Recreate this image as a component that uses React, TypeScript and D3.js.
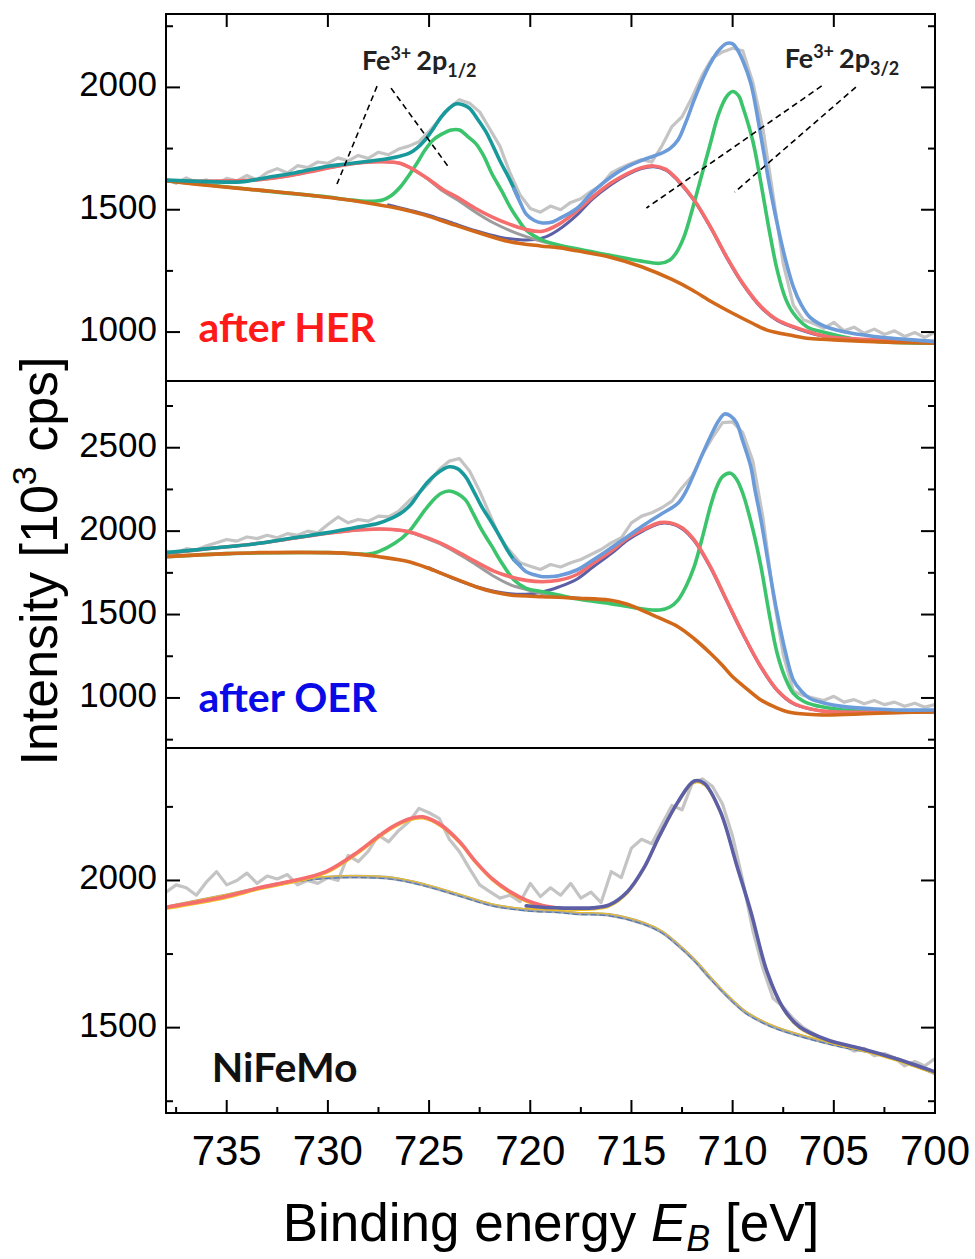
import React from "react";
import * as d3 from "d3";

// ---------- axes ----------
const E_DOMAIN: [number, number] = [738, 700];
const X_MAJOR = [735, 730, 725, 720, 715, 710, 705, 700];
const X_MINOR = [737.5, 732.5, 727.5, 722.5, 717.5, 712.5, 707.5, 702.5];

const HER_Y_DOMAIN: [number, number] = [800, 2300];
const HER_Y_MAJOR = [1000, 1500, 2000];
const HER_Y_MINOR = [1250, 1750, 2250];
const OER_Y_DOMAIN: [number, number] = [700, 2900];
const OER_Y_MAJOR = [1000, 1500, 2000, 2500];
const OER_Y_MINOR = [750, 1250, 1750, 2250, 2750];
const NFM_Y_DOMAIN: [number, number] = [1210, 2450];
const NFM_Y_MAJOR = [1500, 2000];
const NFM_Y_MINOR = [1250, 1750, 2250];

// ---------- raw spectra (sampled every 0.5 eV) ----------
const RAW_E = [738, 737.5, 737, 736.5, 736, 735.5, 735, 734.5, 734, 733.5, 733, 732.5, 732, 731.5, 731, 730.5, 730, 729.5, 729, 728.5, 728, 727.5, 727, 726.5, 726, 725.5, 725, 724.5, 724, 723.5, 723, 722.5, 722, 721.5, 721, 720.5, 720, 719.5, 719, 718.5, 718, 717.5, 717, 716.5, 716, 715.5, 715, 714.5, 714, 713.5, 713, 712.5, 712, 711.5, 711, 710.5, 710, 709.5, 709, 708.5, 708, 707.5, 707, 706.5, 706, 705.5, 705, 704.5, 704, 703.5, 703, 702.5, 702, 701.5, 701, 700.5, 700];

const HER_RAW = [1625, 1608, 1630, 1612, 1622, 1605, 1628, 1618, 1640, 1622, 1652, 1668, 1650, 1680, 1672, 1695, 1690, 1712, 1700, 1722, 1710, 1735, 1725, 1748, 1760, 1778, 1820, 1868, 1915, 1950, 1935, 1900, 1830, 1760, 1650, 1560, 1505, 1490, 1515, 1500, 1530, 1545, 1575, 1600, 1650, 1672, 1690, 1705, 1695, 1760, 1840, 1880, 1960, 2050, 2120, 2145, 2160, 2150, 2020, 1830, 1560, 1280, 1110, 1050, 1035, 1015, 1040, 1005, 1020, 995, 1012, 990, 1005, 982, 998, 978, 1000];

const OER_RAW = [1880, 1868, 1895, 1885, 1912, 1930, 1950, 1940, 1965, 1955, 1975, 1960, 1985, 1975, 2000, 1990, 2040, 2085, 2050, 2070, 2060, 2090, 2085, 2120, 2180, 2230, 2290, 2370, 2420, 2435, 2360, 2240, 2100, 1960, 1880, 1810, 1790, 1770, 1800, 1785, 1810, 1830, 1860, 1890, 1930, 1960, 2050, 2090, 2110, 2140, 2180, 2260, 2330, 2460, 2560, 2650, 2655, 2590, 2420, 2080, 1620, 1260, 1040, 1015, 1000, 985, 1010, 975, 990, 965, 985, 960, 975, 950, 968, 945, 960];

const NFM_RAW = [1960, 1985, 1975, 1950, 1995, 2030, 1985, 2000, 2025, 1990, 2015, 2005, 2020, 1985, 2000, 1990, 2010, 2000, 2085, 2064, 2100, 2154, 2131, 2170, 2199, 2245, 2230, 2211, 2140, 2098, 2040, 1985, 1962, 1940, 1950, 1928, 1990, 1945, 1975, 1950, 1990, 1940, 1960, 1925, 2030, 2010, 2110, 2140, 2125, 2190, 2255, 2240, 2330, 2345, 2320, 2260, 2150, 2000, 1830, 1700, 1600, 1570, 1530, 1500, 1480, 1460, 1452, 1440, 1420, 1430, 1405, 1412, 1398, 1370, 1385, 1370, 1395];

// ---------- fitted curves, after HER ----------
const HER_BG: [number, number][] = [[738, 1619], [736, 1600], [733.4, 1580], [731, 1560], [728.4, 1533], [726.5, 1505], [725.2, 1478], [724, 1445], [722.7, 1410], [721, 1369], [719.5, 1352], [718.6, 1345], [717.7, 1332], [716, 1305], [714.5, 1267], [713, 1215], [712, 1172], [711, 1122], [710, 1077], [709, 1035], [708.3, 1008], [707, 985], [706.2, 974], [705, 968], [703.7, 963], [702, 958], [700, 954]];
const HER_GREEN: [number, number][] = [[738, 1619], [733, 1576], [730, 1552], [729, 1541], [728, 1534], [727.3, 1540], [726.9, 1556], [726.4, 1595], [726, 1640], [725.6, 1690], [725.2, 1744], [724.8, 1785], [724.4, 1808], [723.9, 1826], [723.5, 1826], [723.1, 1800], [722.7, 1771], [722.3, 1720], [721.9, 1648], [721.4, 1575], [721, 1512], [720.6, 1460], [720.2, 1417], [719.4, 1376], [718.6, 1356], [717.7, 1340], [716.1, 1315], [714.5, 1290], [713.6, 1281], [713.1, 1295], [712.8, 1322], [712.4, 1390], [712, 1499], [711.5, 1650], [711.1, 1771], [710.7, 1890], [710.3, 1962], [710, 1983], [709.7, 1965], [709.5, 1921], [709, 1780], [708.6, 1608], [708.2, 1420], [707.8, 1254], [707.4, 1140], [707, 1077], [706.3, 1020], [705.6, 1001], [704.5, 980], [703.7, 968], [702, 958], [700, 954]];
const HER_RED: [number, number][] = [[738, 1619], [736, 1616], [734.5, 1618], [733.4, 1623], [732, 1638], [730.9, 1655], [729.2, 1683], [727.5, 1696], [726.4, 1689], [725.2, 1635], [724.3, 1582], [723.5, 1546], [722.7, 1505], [721.9, 1471], [721, 1440], [720.2, 1419], [719.4, 1412], [718.6, 1440], [717.7, 1495], [716.9, 1553], [716, 1610], [715.2, 1648], [714.5, 1672], [713.9, 1679], [713.3, 1665], [712.7, 1621], [711.9, 1540], [711.1, 1431], [710.3, 1308], [709.5, 1199], [708.6, 1104], [707.8, 1050], [707, 1022], [706, 995], [705.3, 981], [704, 972], [702.8, 968], [700, 961]];
const HER_GRAY: [number, number][] = [[738, 1619], [736, 1616], [734.5, 1618], [733.4, 1623], [732, 1638], [730.9, 1655], [729.2, 1683], [727.5, 1696], [726.4, 1689], [725.2, 1633], [724.3, 1575], [723.5, 1535], [722.7, 1490], [721.9, 1450], [721, 1415], [720.2, 1390], [719.4, 1370], [718.6, 1355], [717.5, 1333]];
const HER_PURPLE: [number, number][] = [[727, 1520], [725.2, 1482], [724, 1450], [722.7, 1414], [721.5, 1388], [720.5, 1377], [719.8, 1378], [719.2, 1390], [718.6, 1418], [717.7, 1478], [716.9, 1545], [716, 1603], [715.2, 1643], [714.5, 1668], [713.9, 1676], [713.3, 1662], [712.7, 1618], [711.9, 1537], [711.1, 1428], [710.3, 1305], [709.5, 1196], [708.6, 1101], [707.8, 1047], [707, 1019], [706, 992], [705, 978], [703, 966], [700, 958]];
const HER_TEAL: [number, number][] = [[738, 1621], [736, 1615], [734.3, 1614], [733, 1632], [731.8, 1648], [730, 1678], [729.2, 1686], [727.5, 1703], [726.5, 1718], [726, 1730], [725.6, 1752], [725.2, 1785], [724.8, 1830], [724.4, 1880], [724, 1915], [723.7, 1932], [723.3, 1928], [723, 1914], [722.6, 1870], [722.2, 1820], [721.9, 1771], [721.5, 1700], [721, 1621], [720.6, 1550]];
const HER_BLUE: [number, number][] = [[720.8, 1585], [720.5, 1530], [720.2, 1482], [719.8, 1456], [719.4, 1446], [718.9, 1450], [718.6, 1462], [717.7, 1505], [716.9, 1574], [716, 1635], [715.2, 1676], [714.4, 1705], [713.6, 1728], [713.1, 1750], [712.7, 1785], [712.3, 1860], [711.9, 1949], [711.5, 2030], [711.1, 2098], [710.7, 2150], [710.3, 2180], [710, 2178], [709.8, 2159], [709.5, 2110], [709.1, 2016], [708.6, 1799], [708.2, 1610], [707.8, 1444], [707.4, 1300], [707, 1185], [706.6, 1110], [706.2, 1062], [705.5, 1025], [704.5, 1001], [703, 982], [702, 974], [700, 961]];

// ---------- fitted curves, after OER ----------
const OER_BG: [number, number][] = [[738, 1847], [735, 1865], [733.4, 1871], [730, 1871], [728.5, 1862], [727.5, 1847], [726, 1817], [725.2, 1785], [724.4, 1747], [723.5, 1705], [722.7, 1667], [721.8, 1635], [721, 1617], [719.4, 1607], [718.6, 1604], [717.7, 1598], [716.1, 1587], [715.2, 1562], [714.5, 1527], [713.6, 1478], [712.7, 1427], [711.9, 1355], [711.1, 1268], [710.5, 1195], [710, 1127], [709.3, 1055], [708.6, 988], [707.9, 945], [707.3, 918], [706.3, 902], [705.3, 898], [703.5, 905], [702, 912], [700, 918]];
const OER_GREEN: [number, number][] = [[738, 1847], [735, 1865], [733, 1870], [730, 1871], [728.5, 1863], [728, 1862], [727.5, 1877], [726.7, 1927], [726, 1997], [725.6, 2060], [725.2, 2127], [724.8, 2185], [724.4, 2227], [724, 2241], [723.6, 2225], [723.2, 2187], [722.8, 2100], [722.4, 2007], [721.9, 1910], [721.5, 1827], [720.8, 1707], [720.2, 1657], [719.4, 1637], [718.6, 1617], [717.5, 1590], [716.1, 1567], [714.5, 1535], [713.6, 1527], [713.1, 1545], [712.7, 1587], [712.3, 1670], [711.9, 1787], [711.5, 1960], [711.1, 2147], [710.8, 2260], [710.5, 2327], [710.1, 2347], [709.8, 2310], [709.5, 2227], [709, 2010], [708.6, 1787], [708.2, 1510], [707.8, 1268], [707.4, 1120], [707, 1028], [706.5, 980], [706, 958], [705, 935], [704.5, 928], [703, 915], [700, 918]];
const OER_RED: [number, number][] = [[738, 1867], [735.5, 1900], [733.4, 1927], [731.7, 1957], [730, 1987], [728.7, 2005], [727.5, 2013], [726.8, 2010], [726, 1997], [725.2, 1965], [724.4, 1927], [723.5, 1870], [722.7, 1817], [721.8, 1760], [721, 1727], [720.2, 1705], [719.4, 1697], [718.6, 1705], [717.7, 1740], [716.9, 1807], [716, 1880], [715.2, 1957], [714.4, 2010], [713.6, 2051], [713.1, 2050], [712.5, 2020], [711.9, 1947], [711.1, 1787], [710.3, 1587], [709.5, 1388], [708.6, 1187], [707.8, 1048], [707, 968], [706.2, 935], [705.3, 918], [703, 915], [700, 918]];
const OER_GRAY: [number, number][] = [[738, 1867], [735.5, 1900], [733.4, 1927], [731.7, 1957], [730, 1987], [728.7, 2005], [727.5, 2013], [726.8, 2010], [726, 1995], [725.2, 1960], [724.4, 1920], [723.5, 1860], [722.7, 1800], [721.8, 1730], [721, 1680], [720.2, 1650], [719.4, 1625], [718.6, 1610], [717.5, 1598]];
const OER_PURPLE: [number, number][] = [[725, 1780], [723.5, 1702], [722.7, 1668], [721.8, 1640], [721, 1625], [720.2, 1622], [719.4, 1635], [718.6, 1665], [717.7, 1712], [716.9, 1785], [716, 1865], [715.2, 1945], [714.4, 2003], [713.6, 2045], [713.1, 2045], [712.5, 2015], [711.9, 1942], [711.1, 1782], [710.3, 1582], [709.5, 1384], [708.6, 1183], [707.8, 1045], [707, 965], [706, 930], [705, 915], [700, 916]];
const OER_TEAL: [number, number][] = [[738, 1871], [735.5, 1900], [733.4, 1927], [731.7, 1960], [730, 1991], [728.7, 2020], [727.5, 2047], [726.9, 2075], [726.4, 2107], [725.9, 2160], [725.5, 2227], [725.1, 2290], [724.7, 2337], [724.3, 2372], [724, 2386], [723.6, 2375], [723.2, 2327], [722.8, 2240], [722.4, 2147], [721.9, 2050], [721.5, 1967], [721.1, 1880], [720.8, 1827], [720.5, 1795]];
const OER_BLUE: [number, number][] = [[720.8, 1830], [720.5, 1790], [720.2, 1757], [719.8, 1738], [719.4, 1727], [718.9, 1728], [718.6, 1732], [717.7, 1767], [716.9, 1827], [716, 1900], [715.2, 1967], [714.4, 2035], [713.6, 2097], [712.7, 2167], [712.3, 2240], [711.9, 2347], [711.5, 2460], [711.1, 2566], [710.7, 2660], [710.4, 2702], [710.1, 2690], [709.8, 2647], [709.5, 2540], [709.1, 2386], [708.9, 2250], [708.6, 2067], [708.2, 1780], [707.8, 1508], [707.4, 1280], [707, 1108], [706.6, 1040], [706.2, 998], [705.5, 970], [704.5, 948], [703, 934], [702, 928], [700, 928]];

// ---------- fitted curves, NiFeMo ----------
const NFM_BG: [number, number][] = [[738, 1909], [735, 1950], [731.8, 1996], [730.1, 2010], [728.5, 2013], [726.8, 2007], [725.2, 1984], [723.5, 1950], [721.9, 1917], [720.2, 1900], [718.6, 1894], [717.7, 1888], [716.1, 1883], [714.4, 1854], [713.5, 1825], [712.7, 1781], [711.9, 1730], [711.1, 1668], [710.3, 1610], [709.4, 1554], [708.6, 1522], [707.8, 1498], [706.2, 1464], [704.5, 1435], [703, 1415], [702, 1396], [701, 1372], [700, 1345]];
const NFM_RED: [number, number][] = [[738, 1909], [735.1, 1945], [733.4, 1975], [731.8, 1998], [730.1, 2030], [728.5, 2098], [727.6, 2145], [726.8, 2183], [726, 2209], [725.3, 2216], [724.4, 2188], [723.5, 2132], [722.7, 2064], [721.9, 2007], [721, 1962], [720.2, 1933], [719.4, 1915], [718.8, 1908]];
const NFM_PURPLE: [number, number][] = [[720.2, 1914], [719.4, 1909], [718.6, 1907], [717.7, 1906], [716.9, 1907], [716.1, 1917], [715.2, 1962], [714.4, 2041], [713.6, 2154], [712.7, 2267], [711.9, 2338], [711.4, 2330], [710.6, 2233], [709.8, 2052], [709.1, 1894], [708.3, 1690], [707.5, 1566], [706.7, 1503], [705.3, 1458], [703.7, 1430], [702, 1396], [700, 1350]];

// ---------- layout ----------
const W = 975;
const H = 1259;
const X0 = 166;
const X1 = 935;
const FONT = "'Liberation Sans', Arial, sans-serif";
const LABEL_FONT = "Lato, 'Open Sans', sans-serif";

const x = d3.scaleLinear().domain(E_DOMAIN).range([X0, X1]);

type Curve = { data: [number, number][]; color: string; width: number; dash?: string; dx?: number; dy?: number };
type Panel = {
  id: string;
  top: number;
  bottom: number;
  domain: [number, number];
  major: number[];
  minor: number[];
  raw: number[];
  curves: Curve[];
  label: string;
  labelColor: string;
  labelPos: [number, number];
};

const GREEN = "#3cc46c";
const RED = "#f56d6d";
const ORANGE = "#d2691a";
const TEAL = "#18999c";
const BLUE = "#6b9bd9";
const PURPLE = "#5c5fa6";
const GRAYC = "#9c9c9c";
const RAWC = "#c4c4c4";
const LW = 3.6;

const panels: Panel[] = [
  {
    id: "her", top: 14, bottom: 381, domain: HER_Y_DOMAIN, major: HER_Y_MAJOR, minor: HER_Y_MINOR, raw: HER_RAW,
    curves: [
      { data: HER_PURPLE, color: PURPLE, width: 3 },
      { data: HER_GRAY, color: GRAYC, width: 3 },
      { data: HER_GREEN, color: GREEN, width: LW },
      { data: HER_RED, color: RED, width: LW },
      { data: HER_BG, color: ORANGE, width: LW },
      { data: HER_TEAL, color: TEAL, width: LW },
      { data: HER_BLUE, color: BLUE, width: LW },
    ],
    label: "after HER", labelColor: "#ff1a1a", labelPos: [736.39, 961],
  },
  {
    id: "oer", top: 381, bottom: 748, domain: OER_Y_DOMAIN, major: OER_Y_MAJOR, minor: OER_Y_MINOR, raw: OER_RAW,
    curves: [
      { data: OER_PURPLE, color: PURPLE, width: 3 },
      { data: OER_GRAY, color: GRAYC, width: 3 },
      { data: OER_GREEN, color: GREEN, width: LW },
      { data: OER_RED, color: RED, width: LW },
      { data: OER_BG, color: ORANGE, width: LW },
      { data: OER_TEAL, color: TEAL, width: LW },
      { data: OER_BLUE, color: BLUE, width: LW },
    ],
    label: "after OER", labelColor: "#0a0ae6", labelPos: [736.39, 918],
  },
  {
    id: "nfm", top: 748, bottom: 1113, domain: NFM_Y_DOMAIN, major: NFM_Y_MAJOR, minor: NFM_Y_MINOR, raw: NFM_RAW,
    curves: [
      { data: NFM_BG, color: "#a4a4a4", width: LW },
      { data: NFM_BG, color: "#f0c020", width: 1, dx: 0.5, dy: -1 },
      { data: NFM_BG, color: "#3a70c0", width: 1, dash: "5,4", dx: 0, dy: 1 },
      { data: NFM_RED, color: "#f0c020", width: 1.5, dx: 0, dy: 2 },
      { data: NFM_RED, color: RED, width: LW },
      { data: NFM_PURPLE, color: "#f0c020", width: 1.5, dx: 0, dy: 2 },
      { data: NFM_PURPLE, color: PURPLE, width: LW },
    ],
    label: "NiFeMo", labelColor: "#111", labelPos: [735.74, 1315],
  },
];

// annotation leader lines in HER data coords
const ANNOT_LINES: [number, number, number, number][] = [
  [727.57, 2005, 729.55, 1605],
  [726.88, 1997, 724.0, 1670],
  [705.6, 2006, 714.26, 1507],
  [703.91, 2001, 709.9, 1572],
];
const ANNOT_TEXT: { e: number; v: number; sub: string }[] = [
  { e: 728.32, v: 2071, sub: "1/2" },
  { e: 707.43, v: 2079, sub: "3/2" },
];

function PanelView({ p, isTop, isBottom }: { p: Panel; isTop: boolean; isBottom: boolean }) {
  const y = d3.scaleLinear().domain(p.domain).range([p.bottom, p.top]);
  const smooth = d3
    .line<[number, number]>()
    .x((d) => x(d[0]))
    .y((d) => y(d[1]))
    .curve(d3.curveCatmullRom.alpha(0.5));
  const rawLine = d3
    .line<number>()
    .x((_, i) => x(RAW_E[i]))
    .y((d) => y(d))
    .curve(d3.curveLinear);
  const clipId = `clip-${p.id}`;
  return (
    <g>
      <defs>
        <clipPath id={clipId}>
          <rect x={X0} y={p.top} width={X1 - X0} height={p.bottom - p.top} />
        </clipPath>
      </defs>
      <g clipPath={`url(#${clipId})`} fill="none" strokeLinejoin="round" strokeLinecap="round">
        <path d={rawLine(p.raw) || ""} stroke={RAWC} strokeWidth={3.2} />
        {p.curves.map((c, i) => (
          <path
            key={i}
            d={smooth(c.data) || ""}
            stroke={c.color}
            strokeWidth={c.width}
            strokeDasharray={c.dash}
            transform={c.dx || c.dy ? `translate(${c.dx || 0},${c.dy || 0})` : undefined}
          />
        ))}
      </g>
      {p.major.map((t) => (
        <g key={`M${t}`}>
          <line x1={X0} x2={X0 + 14} y1={y(t)} y2={y(t)} stroke="#000" strokeWidth={2} />
          <line x1={X1} x2={X1 - 14} y1={y(t)} y2={y(t)} stroke="#000" strokeWidth={2} />
          <text x={X0 - 9} y={y(t) + 9} textAnchor="end" fontFamily={FONT} fontSize={35} fill="#000">
            {t}
          </text>
        </g>
      ))}
      {p.minor.map((t) => (
        <g key={`m${t}`}>
          <line x1={X0} x2={X0 + 7} y1={y(t)} y2={y(t)} stroke="#000" strokeWidth={2} />
          <line x1={X1} x2={X1 - 7} y1={y(t)} y2={y(t)} stroke="#000" strokeWidth={2} />
        </g>
      ))}
      {isTop &&
        X_MAJOR.map((t) => (
          <line key={`tx${t}`} x1={x(t)} x2={x(t)} y1={p.top} y2={p.top + 13} stroke="#000" strokeWidth={2} />
        ))}
      {isBottom && (
        <g>
          {X_MAJOR.map((t) => (
            <g key={`bx${t}`}>
              <line x1={x(t)} x2={x(t)} y1={p.bottom} y2={p.bottom - 13} stroke="#000" strokeWidth={2} />
              <text x={x(t)} y={1165} textAnchor="middle" fontFamily={FONT} fontSize={42} fill="#000">
                {t}
              </text>
            </g>
          ))}
          {X_MINOR.map((t) => (
            <line key={`bm${t}`} x1={x(t)} x2={x(t)} y1={p.bottom} y2={p.bottom - 6} stroke="#000" strokeWidth={2} />
          ))}
        </g>
      )}
      <rect x={X0} y={p.top} width={X1 - X0} height={p.bottom - p.top} fill="none" stroke="#000" strokeWidth={2} />
      <text
        x={x(p.labelPos[0])}
        y={y(p.labelPos[1])}
        fontFamily={LABEL_FONT}
        fontWeight={700}
        fontSize={41}
        fill={p.labelColor}
      >
        {p.label}
      </text>
      {isTop && (
        <g>
          {ANNOT_LINES.map((l, i) => (
            <line
              key={`al${i}`}
              x1={x(l[0])}
              y1={y(l[1])}
              x2={x(l[2])}
              y2={y(l[3])}
              stroke="#000"
              strokeWidth={1.6}
              strokeDasharray="6,4"
            />
          ))}
          {ANNOT_TEXT.map((a, i) => (
            <text key={`at${i}`} x={x(a.e)} y={y(a.v)} fontFamily={LABEL_FONT} fontWeight={700} fontSize={27} fill="#222">
              Fe
              <tspan fontSize={18} dy={-10}>3+</tspan>
              <tspan fontSize={27} dy={10} dx={5}>2p</tspan>
              <tspan fontSize={18} dy={7}>{a.sub}</tspan>
            </text>
          ))}
        </g>
      )}
    </g>
  );
}

export default function App() {
  return (
    <svg width={W} height={H} viewBox={`0 0 ${W} ${H}`} style={{ display: "block", position: "absolute", left: 0, top: 0, background: "#fff" }}>
      <rect x={0} y={0} width={W} height={H} fill="#fff" />
      {panels.map((p, i) => (
        <PanelView key={p.id} p={p} isTop={i === 0} isBottom={i === panels.length - 1} />
      ))}
      <text
        transform="translate(57,561) rotate(-90)"
        textAnchor="middle"
        fontFamily={FONT}
        fontSize={52}
        fill="#000"
      >
        Intensity [10
        <tspan fontSize={34} dy={-21}>3</tspan>
        <tspan dy={21}> cps]</tspan>
      </text>
      <text x={551} y={1241} textAnchor="middle" fontFamily={FONT} fontSize={53} fill="#000">
        Binding energy{" "}
        <tspan fontStyle="italic">E</tspan>
        <tspan fontStyle="italic" fontSize={36} dy={10}>B</tspan>
        <tspan dy={-10}> [eV]</tspan>
      </text>
    </svg>
  );
}
